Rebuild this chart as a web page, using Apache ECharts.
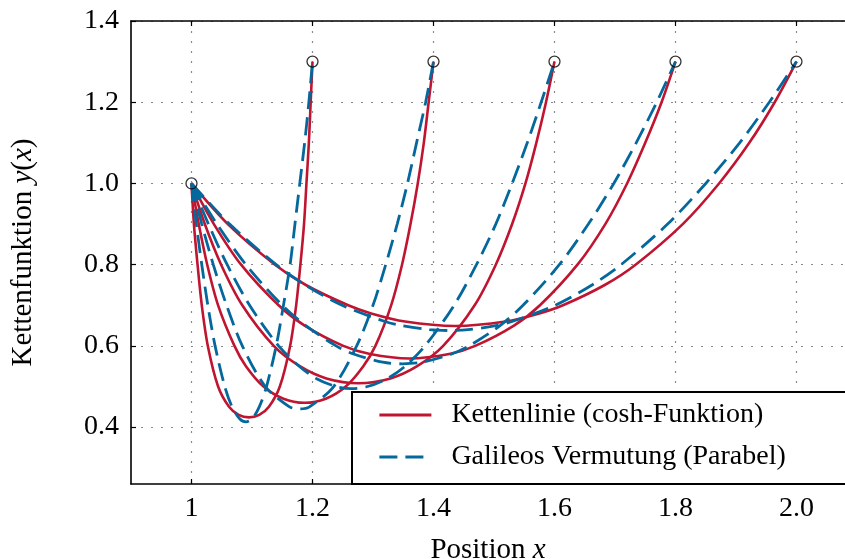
<!DOCTYPE html>
<html>
<head>
<meta charset="utf-8">
<script src="https://cdn.jsdelivr.net/npm/echarts@6/dist/echarts.min.js"></script>
<style>
  html, body { margin: 0; padding: 0; background: #fff; }
  #main { width: 845px; height: 559px; }
</style>
</head>
<body>
<div id="main"></div>
<script>
// Kettenlinien (cosh): [x, y]
const kette12 = [[1.0,1.0],[1.004,0.9],[1.010,0.8],[1.017,0.7],[1.027,0.6],[1.044,0.5],[1.062,0.45],[1.078,0.43],[1.095,0.424],[1.112,0.43],[1.128,0.45],[1.146,0.5],[1.163,0.6],[1.173,0.7],[1.180,0.8],[1.186,0.9],[1.190,1.0],[1.194,1.1],[1.197,1.2],[1.2,1.3]];
const kette14 = [[1.0,1.0],[1.012,0.9],[1.026,0.8],[1.044,0.7],[1.071,0.6],[1.090,0.55],[1.119,0.5],[1.152,0.47],[1.187,0.46],[1.222,0.47],[1.255,0.5],[1.284,0.55],[1.304,0.6],[1.330,0.7],[1.348,0.8],[1.362,0.9],[1.374,1.0],[1.384,1.1],[1.392,1.2],[1.4,1.3]];
const kette16 = [[1.0,1.0],[1.022,0.9],[1.049,0.8],[1.084,0.7],[1.136,0.6],[1.179,0.55],[1.223,0.52],[1.276,0.508],[1.329,0.52],[1.373,0.55],[1.416,0.6],[1.468,0.7],[1.503,0.8],[1.530,0.9],[1.552,1.0],[1.570,1.1],[1.586,1.2],[1.6,1.3]];
const kette18 = [[1.0,1.0],[1.037,0.9],[1.082,0.8],[1.144,0.7],[1.187,0.65],[1.251,0.6],[1.295,0.58],[1.36,0.569],[1.426,0.58],[1.469,0.6],[1.533,0.65],[1.576,0.7],[1.638,0.8],[1.684,0.9],[1.72,1.0],[1.75,1.1],[1.777,1.2],[1.8,1.3]];
const kette20 = [[1.0,1.0],[1.060,0.9],[1.138,0.8],[1.189,0.75],[1.259,0.7],[1.297,0.68],[1.353,0.66],[1.436,0.649],[1.519,0.66],[1.575,0.68],[1.614,0.7],[1.683,0.75],[1.734,0.8],[1.812,0.9],[1.872,1.0],[1.922,1.1],[1.964,1.2],[2.0,1.3]];

// Galileos Parabeln: [x, y]
const parabel12 = [[1.0,1.0],[1.008,0.9],[1.017,0.8],[1.027,0.7],[1.039,0.6],[1.055,0.5],[1.067,0.45],[1.080,0.42],[1.090,0.413],[1.100,0.42],[1.112,0.45],[1.124,0.5],[1.140,0.6],[1.152,0.7],[1.163,0.8],[1.171,0.9],[1.179,1.0],[1.187,1.1],[1.194,1.2],[1.2,1.3]];
const parabel14 = [[1.0,1.0],[1.017,0.9],[1.036,0.8],[1.058,0.7],[1.084,0.6],[1.122,0.5],[1.162,0.45],[1.179,0.445],[1.195,0.45],[1.235,0.5],[1.273,0.6],[1.300,0.7],[1.321,0.8],[1.340,0.9],[1.357,1.0],[1.372,1.1],[1.387,1.2],[1.4,1.3]];
const parabel16 = [[1.0,1.0],[1.028,0.9],[1.059,0.8],[1.096,0.7],[1.144,0.6],[1.178,0.55],[1.206,0.52],[1.239,0.5],[1.265,0.495],[1.291,0.5],[1.324,0.52],[1.353,0.55],[1.386,0.6],[1.434,0.7],[1.471,0.8],[1.503,0.9],[1.53,1.0],[1.555,1.1],[1.578,1.2],[1.6,1.3]];
const parabel18 = [[1.0,1.0],[1.042,0.9],[1.090,0.8],[1.150,0.7],[1.189,0.65],[1.239,0.6],[1.268,0.58],[1.316,0.56],[1.349,0.556],[1.382,0.56],[1.430,0.58],[1.459,0.6],[1.510,0.65],[1.548,0.7],[1.608,0.8],[1.656,0.9],[1.698,1.0],[1.735,1.1],[1.769,1.2],[1.8,1.3]];
const parabel20 = [[1.0,1.0],[1.063,0.9],[1.140,0.8],[1.188,0.75],[1.249,0.7],[1.320,0.66],[1.348,0.65],[1.393,0.64],[1.425,0.638],[1.457,0.64],[1.503,0.65],[1.530,0.66],[1.601,0.7],[1.662,0.75],[1.710,0.8],[1.787,0.9],[1.85,1.0],[1.906,1.1],[1.955,1.2],[2.0,1.3]];

// Aufhaengepunkte
const points = [[1.0,1.0],[1.2,1.3],[1.4,1.3],[1.6,1.3],[1.8,1.3],[2.0,1.3]];

const xTicks = [1.0, 1.2, 1.4, 1.6, 1.8, 2.0];
const yTicks = [0.4, 0.6, 0.8, 1.0, 1.2, 1.4];

const nameKette = 'Kettenlinie (cosh-Funktion)';
const nameParabel = 'Galileos Vermutung (Parabel)';

const RED = '#c01530';
const BLUE = '#05689c';
const FONT = "'Liberation Serif', 'DejaVu Serif', serif";

const chart = echarts.init(document.getElementById('main'));

const pairs = [
  [kette12, parabel12],
  [kette14, parabel14],
  [kette16, parabel16],
  [kette18, parabel18],
  [kette20, parabel20]
];

const series = [];
pairs.forEach(([k, p]) => {
  series.push({
    name: nameKette,
    type: 'line',
    data: k,
    smooth: 0.3,
    symbol: 'none',
    lineStyle: { color: RED, width: 2.6 },
    itemStyle: { color: RED },
    z: 3
  });
  series.push({
    name: nameParabel,
    type: 'line',
    data: p,
    smooth: 0.3,
    symbol: 'none',
    lineStyle: { color: BLUE, width: 2.8, type: [18, 8] },
    itemStyle: { color: BLUE },
    z: 4
  });
});
series.push({
  type: 'scatter',
  data: points,
  symbol: 'circle',
  symbolSize: 11,
  itemStyle: { color: 'rgba(0,0,0,0)', borderColor: '#000', borderWidth: 1.3 },
  z: 5,
  silent: true
});

const labelStyle = { color: '#000', fontFamily: FONT, fontSize: 28 };
const richName = {
  a: { fontFamily: FONT, fontSize: 29, color: '#000' },
  b: { fontFamily: FONT, fontSize: 29, color: '#000', fontStyle: 'italic' }
};

chart.setOption({
  backgroundColor: '#fff',
  animation: false,
  grid: { left: 131, top: 21, width: 714, height: 463, containLabel: false, outerBoundsMode: 'none' },
  legend: {
    data: [nameKette, nameParabel],
    orient: 'vertical',
    left: 352,
    top: 392,
    padding: [9, 90, 13, 26],
    itemWidth: 52,
    itemHeight: 30,
    itemGap: 14,
    backgroundColor: '#fff',
    borderColor: '#000',
    borderWidth: 2,
    borderRadius: 0,
    itemStyle: { opacity: 0, borderWidth: 0 },
    lineStyle: { width: 2.8 },
    textStyle: { color: '#000', fontFamily: FONT, fontSize: 28, padding: [0, 0, 0, 15] }
  },
  xAxis: [
    {
      type: 'value',
      min: 0.9,
      max: 2.0802,
      name: '{a|Position }{b|x}',
      nameLocation: 'middle',
      nameGap: 52,
      nameTextStyle: { rich: richName },
      axisLine: { show: true, lineStyle: { color: '#000', width: 1.6 } },
      axisTick: { show: true, inside: true, length: 5, customValues: xTicks, lineStyle: { color: '#000', width: 1.2 } },
      axisLabel: Object.assign({
        customValues: xTicks,
        margin: 11,
        formatter: v => (Math.abs(v - 1) < 1e-9 ? '1' : v.toFixed(1))
      }, labelStyle),
      splitLine: { show: true, lineStyle: { color: '#8a8a8a', width: 1.2, type: [2, 8] } }
    },
    {
      type: 'value',
      position: 'top',
      min: 0.9,
      max: 2.0802,
      axisLine: { show: true, lineStyle: { color: '#000', width: 1.6 } },
      axisTick: { show: true, inside: true, length: 5, customValues: xTicks, lineStyle: { color: '#000', width: 1.2 } },
      axisLabel: { show: false },
      splitLine: { show: false }
    }
  ],
  yAxis: {
    type: 'value',
    min: 0.26,
    max: 1.4,
    name: '{a|Kettenfunktion }{b|y}{a|(}{b|x}{a|)}',
    nameLocation: 'middle',
    nameGap: 93,
    nameTextStyle: { rich: richName },
    axisLine: { show: true, lineStyle: { color: '#000', width: 1.6 } },
    axisTick: { show: true, inside: true, length: 5, customValues: yTicks, lineStyle: { color: '#000', width: 1.2 } },
    axisLabel: Object.assign({
      customValues: yTicks,
      margin: 12,
      formatter: v => v.toFixed(1)
    }, labelStyle),
    splitLine: { show: true, lineStyle: { color: '#8a8a8a', width: 1.2, type: [2, 8] } }
  },
  series: series
});
</script>
</body>
</html>
